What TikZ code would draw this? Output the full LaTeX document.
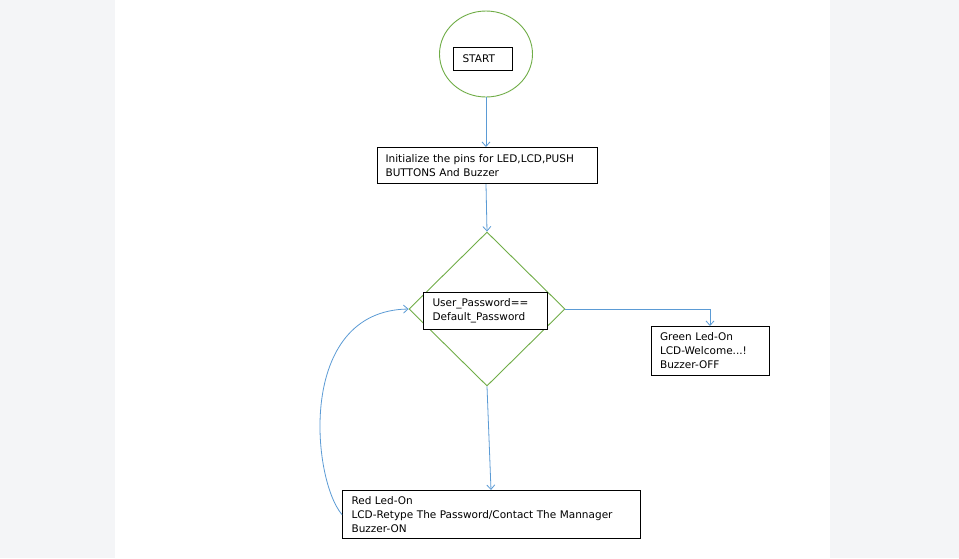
\documentclass[tikz,border=0pt]{standalone}
\usepackage{fontspec}
\setmainfont{DejaVu Sans}
\usetikzlibrary{arrows.meta,shapes.geometric}
\definecolor{pagegray}{RGB}{244,245,247}
\definecolor{flowblue}{RGB}{91,155,213}
\definecolor{flowgreen}{RGB}{112,173,71}
\tikzset{
  x=1pt, y=-1pt,
  every node/.style={font=\fontsize{10.5}{14}\selectfont},
  textbox/.style={draw=black, line width=1.1pt, fill=white, align=left,
    inner xsep=8pt, inner ysep=0pt, anchor=north west},
  flow/.style={draw=flowblue, line width=0.8pt,
    -{Straight Barb[length=4.5pt,width=8pt,line width=0.8pt]}},
  outline/.style={draw=flowgreen, line width=0.9pt}
}
\begin{document}
\begin{tikzpicture}
% page background and white sheet
\path[fill=pagegray] (0,0) rectangle (959,558);
\path[fill=white] (115,0) rectangle (830,558);
\useasboundingbox (0,0) rectangle (959,558);

% start terminal
\node[outline, ellipse, minimum width=93pt, minimum height=86pt] (startc) at (486,54) {};
\node[textbox, minimum width=59pt, minimum height=23pt, text width=41pt] (start) at (453,47) {START};

% initialisation step
\node[textbox, minimum width=220pt, minimum height=36pt, text width=204pt, inner xsep=5.5pt] (init) at (377,147)
  {Initialize the pins for LED,LCD,PUSH\\BUTTONS And Buzzer};

% password check
\node[outline, diamond, minimum width=156pt, minimum height=154pt, inner sep=0pt] (check) at (487,309) {};
\node[textbox, minimum width=124pt, minimum height=37pt, text width=106pt, inner xsep=9pt] (cond) at (423,292)
  {User\_Password==\\Default\_Password};

% outcomes
\node[textbox, minimum width=118pt, minimum height=49pt, text width=101pt, inner xsep=8.5pt] (ok) at (651,326)
  {Green Led-On\\LCD-Welcome...!\\Buzzer-OFF};
\node[textbox, minimum width=298pt, minimum height=48pt, text width=280pt, inner xsep=9pt] (fail) at (342,490)
  {Red Led-On\\LCD-Retype The Password/Contact The Mannager\\Buzzer-ON};

% connectors
\coordinate (bend) at (710,309);
\draw[flow] (startc.south) -- (init.north -| startc.south);
\draw[flow] (init.south -| startc.south) -- (check.north);
\draw[flow] (check.east) -- (bend) -- (ok.north -| bend);
\draw[flow] (check.south) -- (491,490);
\draw[flow] (fail.west) .. controls (312,480) and (296,311) .. (check.west);
\end{tikzpicture}
\end{document}
